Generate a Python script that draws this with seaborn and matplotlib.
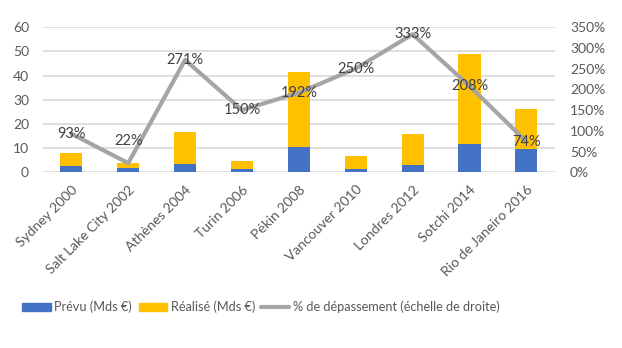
import numpy as np
import pandas as pd
import matplotlib
matplotlib.use("Agg")
import matplotlib.pyplot as plt
import seaborn as sns
from matplotlib.lines import Line2D
from matplotlib.patches import Patch

categories = ["Sydney 2000", "Salt Lake City 2002", "Athènes 2004", "Turin 2006",
              "Pékin 2008", "Vancouver 2010", "Londres 2012", "Sotchi 2014",
              "Rio de Janeiro 2016"]
prevu = [2.7, 1.6, 3.4, 1.4, 10.4, 1.4, 3.0, 11.8, 9.5]
realise = [5.1, 2.4, 13.1, 3.1, 31.1, 5.3, 12.8, 37.2, 16.5]
depassement = [93, 22, 271, 150, 192, 250, 333, 208, 74]
left_ticks = [0, 10, 20, 30, 40, 50, 60]
right_ticks = [0, 50, 100, 150, 200, 250, 300, 350]

BLUE = "#4472C4"
YELLOW = "#FFC000"
GRAY = "#A5A5A5"
TXT = "#595959"

sns.set_theme(style="white")
plt.rcParams["font.family"] = ["Lato", "DejaVu Sans"]

df = pd.DataFrame({"cat": categories, "prevu": prevu, "realise": realise,
                   "pct": depassement})
df["total"] = df["prevu"] + df["realise"]

fig = plt.figure(figsize=(6.22, 3.48), dpi=100)
ax = fig.add_axes([0.069, 0.505, 0.823, 0.417])

sns.barplot(data=df, x="cat", y="total", color=YELLOW, width=0.39,
            saturation=1, ax=ax, edgecolor="none")
sns.barplot(data=df, x="cat", y="prevu", color=BLUE, width=0.39,
            saturation=1, ax=ax, edgecolor="none")
ax.set_xlim(-0.5, len(categories) - 0.5)
ax.set_ylim(0, 60)
ax.set_yticks(left_ticks)
ax.set_yticklabels([str(t) for t in left_ticks])
ax.yaxis.grid(True, color="#D9D9D9", linewidth=1.2)
ax.set_axisbelow(True)
for s in ax.spines.values():
    s.set_visible(False)
ax.set_xlabel("")
ax.set_ylabel("")
ax.tick_params(axis="both", length=0, colors=TXT, labelsize=10)
ax.tick_params(axis="y", pad=10)
ax.set_xticks(range(len(categories)))
ax.set_xticklabels(categories, rotation=45, ha="right", rotation_mode="anchor")
ax.tick_params(axis="x", pad=8)

ax2 = ax.twinx()
xs = np.arange(len(categories))
sns.lineplot(x=xs, y=df["pct"], ax=ax2, color=GRAY, linewidth=3, sort=False)
ax2.set_ylim(0, 350)
ax2.set_yticks(right_ticks)
ax2.set_yticklabels([f"{t}%" for t in right_ticks])
ax2.set_ylabel("")
ax2.tick_params(axis="y", length=0, colors=TXT, labelsize=10, pad=11)
for s in ax2.spines.values():
    s.set_visible(False)
ax2.set_xlim(-0.5, len(categories) - 0.5)

for i, v in enumerate(depassement):
    dy = 16 if i == 1 else 0
    ax2.annotate(f"{v}%", (i, v), xytext=(0, dy), textcoords="offset points",
                 ha="center", va="center", fontsize=10.5, color="#404040")

handles = [Patch(color=BLUE), Patch(color=YELLOW),
           Line2D([0], [0], color=GRAY, linewidth=3)]
labels = ["Prévu (Mds €)", "Réalisé (Mds €)", "% de dépassement (échelle de droite)"]
leg = fig.legend(handles, labels, loc="center", bbox_to_anchor=(0.42, 0.118),
                 ncol=3, frameon=False, fontsize=9.2, handlelength=2.2,
                 handleheight=0.6, handletextpad=0.3, columnspacing=0.5)
for t in leg.get_texts():
    t.set_color(TXT)

fig.savefig("out.png", dpi=100)
